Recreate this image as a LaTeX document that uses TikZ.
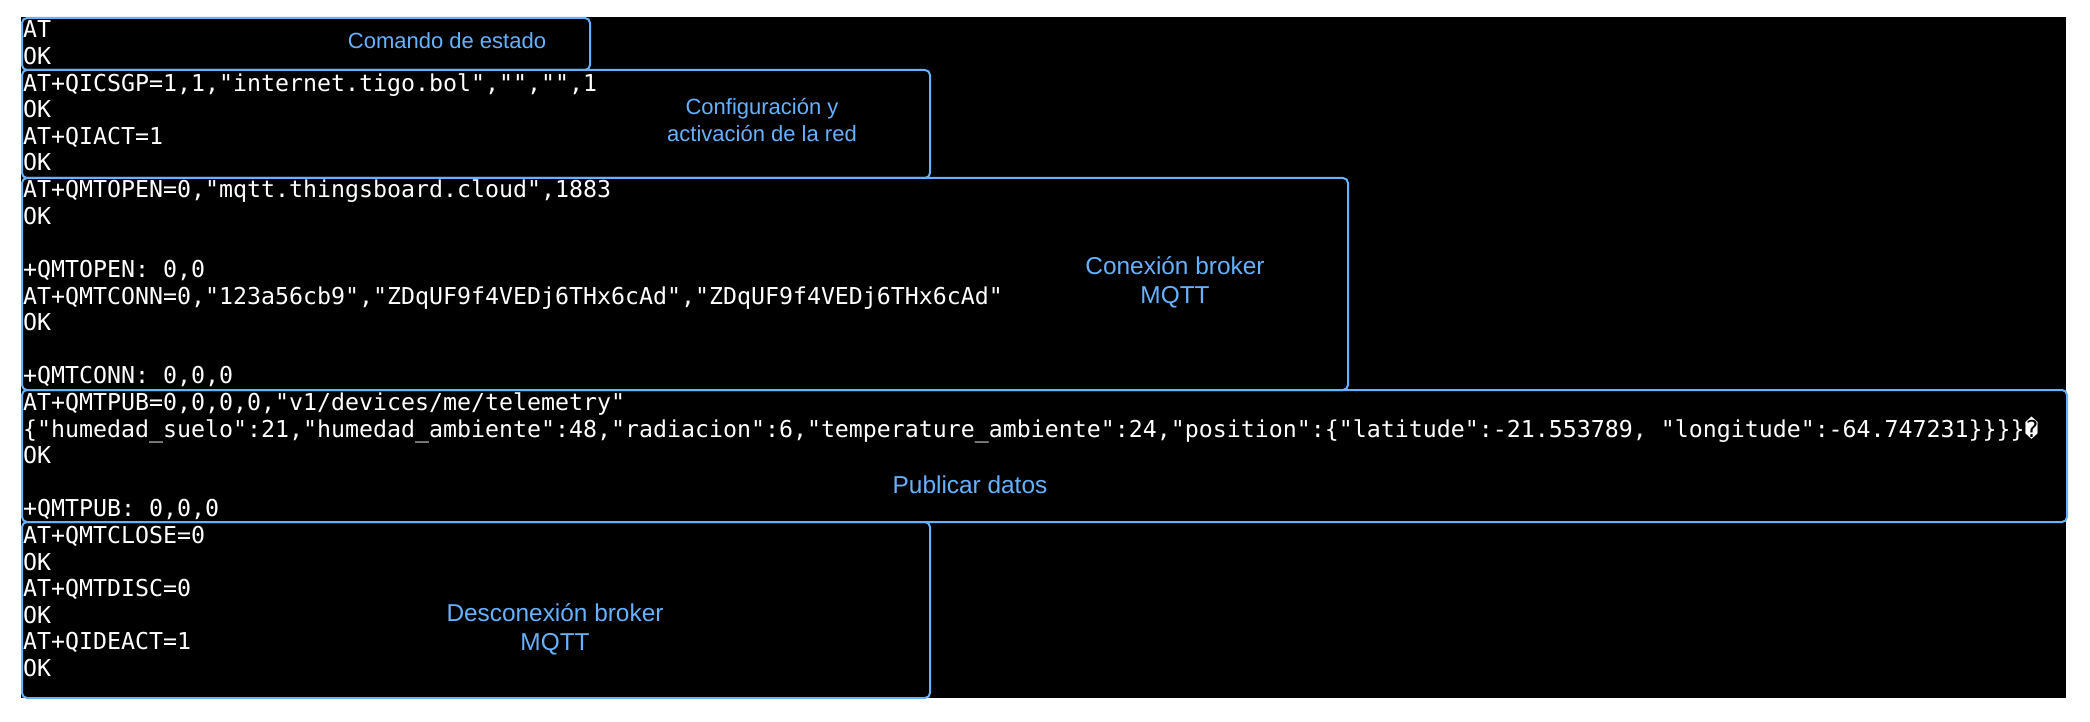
\documentclass[tikz,border=0pt]{standalone}
\usepackage{fontspec}
\setmainfont{Liberation Sans}
\newfontfamily\termfont{DejaVu Sans Mono}
\definecolor{lblue}{HTML}{66B2FF}
\newcommand{\tline}[2]{\node[term] (t#1) at (23,{38+26.6*#1}) {#2};}
\begin{document}
\begin{tikzpicture}[x=1pt,y=-1pt,
  box/.style={draw=lblue, line width=2pt, rounded corners=5pt, anchor=north west, inner sep=0pt},
  term/.style={anchor=base west, inner sep=0pt, text=white, font=\termfont\fontsize{23.25}{26.6}\selectfont},
  lbl/.style={text=lblue, align=center, inner sep=0pt, font=\fontsize{22}{27}\selectfont},
  lblbig/.style={lbl, font=\fontsize{24.4}{29}\selectfont}]
\useasboundingbox (0,0) rectangle (2090,722);
\fill[black] (21,17) rectangle (2066,698);
% boxes
\node[box, minimum width=568pt, minimum height=52pt] (b1) at (21,17) {};
\node[box, minimum width=908pt, minimum height=108pt] (b2) at (21,69) {};
\node[box, minimum width=1326pt, minimum height=212pt] (b3) at (21,177) {};
\node[box, minimum width=2045pt, minimum height=132pt] (b4) at (21,389) {};
\node[box, minimum width=908pt, minimum height=176pt] (b5) at (21,521) {};
% terminal lines
\tline{0}{AT}
\tline{1}{OK}
\tline{2}{AT+QICSGP=1,1,"internet.tigo.bol","","",1}
\tline{3}{OK}
\tline{4}{AT+QIACT=1}
\tline{5}{OK}
\tline{6}{AT+QMTOPEN=0,"mqtt.thingsboard.cloud",1883}
\tline{7}{OK}
\tline{9}{+QMTOPEN: 0,0}
\tline{10}{AT+QMTCONN=0,"123a56cb9","ZDqUF9f4VEDj6THx6cAd","ZDqUF9f4VEDj6THx6cAd"}
\tline{11}{OK}
\tline{13}{+QMTCONN: 0,0,0}
\tline{14}{AT+QMTPUB=0,0,0,0,"v1/devices/me/telemetry"}
\tline{15}{\{"humedad\_suelo":21,"humedad\_ambiente":48,"radiacion":6,"temperature\_ambiente":24,"position":\{"latitude":-21.553789, "longitude":-64.747231\}\}\}\}�}
\tline{16}{OK}
\tline{18}{+QMTPUB: 0,0,0}
\tline{19}{AT+QMTCLOSE=0}
\tline{20}{OK}
\tline{21}{AT+QMTDISC=0}
\tline{22}{OK}
\tline{23}{AT+QIDEACT=1}
\tline{24}{OK}
% labels
\node[lbl] (l1) at (447,41) {Comando de estado};
\node[lbl] (l2) at (762,120) {Configuración y\\activación de la red};
\node[lblbig] (l3) at (1175,282) {Conexión broker\\MQTT};
\node[lblbig] (l4) at (970,485) {Publicar datos};
\node[lblbig] (l5) at (555,629) {Desconexión broker\\MQTT};
\end{tikzpicture}
\end{document}
